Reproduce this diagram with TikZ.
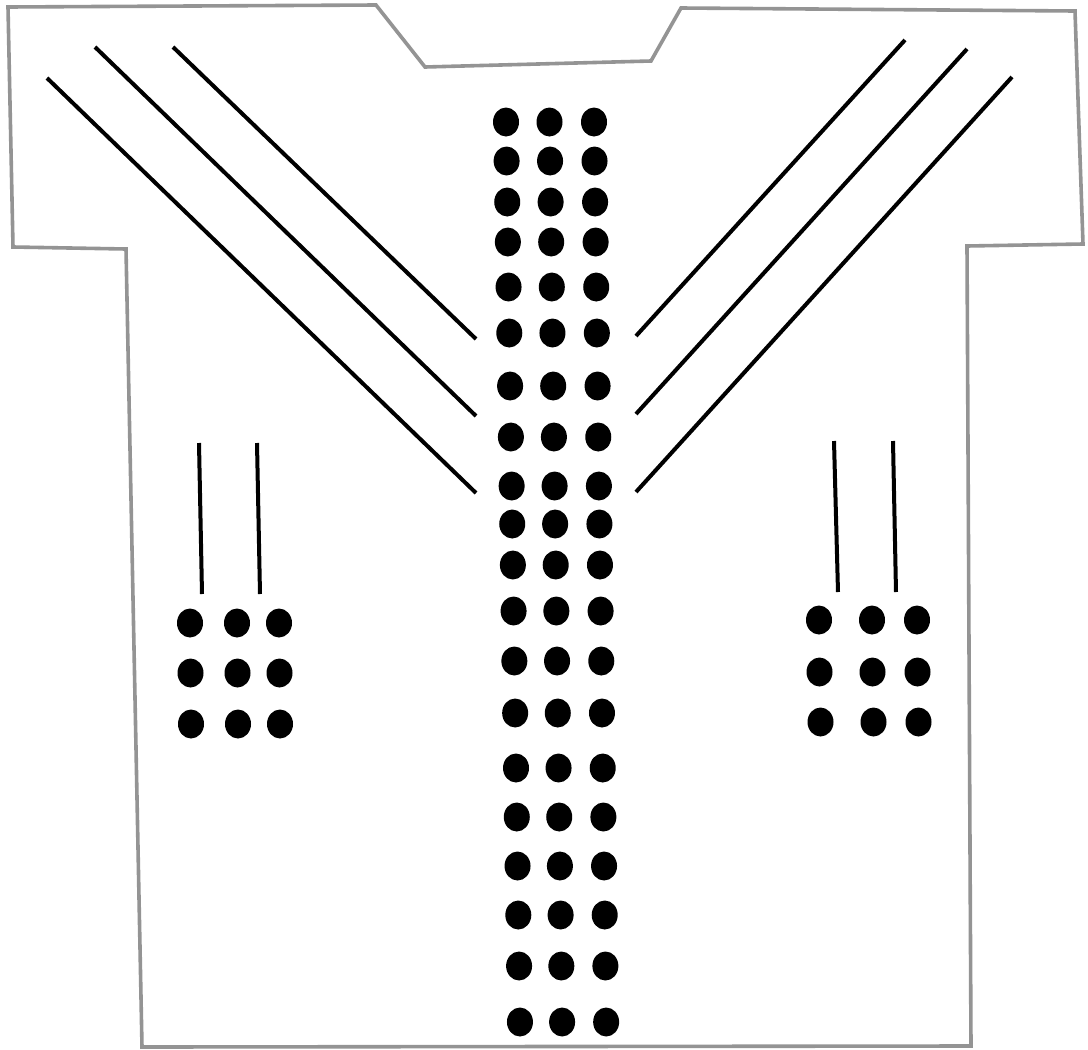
\documentclass[tikz,border=0pt]{standalone}
\begin{document}
\begin{tikzpicture}[x=1pt,y=-1pt,
  outline/.style={draw=black!42,line width=3.6pt,line join=miter},
  stripe/.style={draw=black,line width=4pt},
  dot/.style={fill=black}]
\useasboundingbox (0,0) rectangle (1088,1050);
\fill[white] (0,0) rectangle (1088,1050);
% shirt outline
\draw[outline] (8,7) -- (376,5) -- (425,67) -- (651,61) -- (681,8) -- (1075,11)
  -- (1083,244) -- (967,246) -- (971,1046) -- (142,1047) -- (126,249)
  -- (13,247) -- cycle;
% left diagonals
\draw[stripe] (47,78) -- (476,493);
\draw[stripe] (95,47) -- (476,416);
\draw[stripe] (173,47) -- (476,339);
% right diagonals
\draw[stripe] (905,40) -- (636,336);
\draw[stripe] (967,49) -- (636,414);
\draw[stripe] (1012,77) -- (636,492);
% vertical lines
\draw[stripe] (199,443) -- (202,594);
\draw[stripe] (257,443) -- (260,594);
\draw[stripe] (834,441) -- (838,592);
\draw[stripe] (893,441) -- (896,592);
% central column of dots
\foreach \yy in {122,161,202,242,287,333,386,437,486,524,565,611,661,713,768,817,866,915,966,1022}{
  \pgfmathsetmacro{\xa}{506+0.0155*(\yy-122)}
  \pgfmathsetmacro{\xb}{549.5+0.0140*(\yy-122)}
  \pgfmathsetmacro{\xc}{594+0.0135*(\yy-122)}
  \fill[dot] (\xa,\yy) ellipse [x radius=13,y radius=14.5];
  \fill[dot] (\xb,\yy) ellipse [x radius=13,y radius=14.5];
  \fill[dot] (\xc,\yy) ellipse [x radius=13,y radius=14.5];
}
% left block
\foreach \yy/\dx in {623/0,673/0.5,724/1}{
  \fill[dot] (190+\dx,\yy) ellipse [x radius=13,y radius=14.5];
  \fill[dot] (237+\dx,\yy) ellipse [x radius=13,y radius=14.5];
  \fill[dot] (279+\dx,\yy) ellipse [x radius=13,y radius=14.5];
}
% right block
\foreach \yy/\dx in {620/0,672/0.5,722/1.5}{
  \fill[dot] (819+\dx,\yy) ellipse [x radius=13,y radius=14.5];
  \fill[dot] (872+\dx,\yy) ellipse [x radius=13,y radius=14.5];
  \fill[dot] (917+\dx,\yy) ellipse [x radius=13,y radius=14.5];
}
\end{tikzpicture}
\end{document}
